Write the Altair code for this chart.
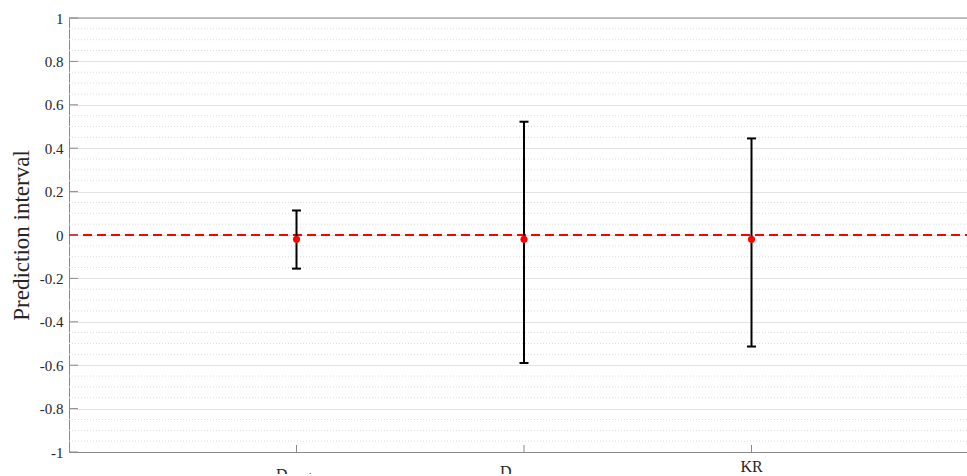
import altair as alt
import numpy as np
import pandas as pd

# Methods compared, their x positions, point estimates and interval bounds
methods = ["D_BR*", "D_SMG", "KR"]
positions = [1, 2, 3]
estimates = [-0.02, -0.02, -0.02]
lower = [-0.155, -0.59, -0.514]
upper = [0.113, 0.522, 0.445]

# Axis ticks
y_major = [-1, -0.8, -0.6, -0.4, -0.2, 0, 0.2, 0.4, 0.6, 0.8, 1]
y_minor = [round(v, 2) for v in np.arange(-1, 1.0001, 0.05) if round(v / 0.2, 6) % 1 != 0]

W, H = 898, 434
TOP = 18
X_MAX = W / 227.5
SERIF = "Liberation Serif"
AXIS_GRAY = "#8a8a8a"
TEXT = "#262626"

df = pd.DataFrame({"method": methods, "pos": positions, "est": estimates,
                   "lo": lower, "hi": upper})

xs = alt.Scale(domain=[0, X_MAX], nice=False, zero=False)
ys = alt.Scale(domain=[-1, 1], nice=False)

x_axis = alt.Axis(title=None, labels=False, ticks=False, grid=False,
                  domainColor=AXIS_GRAY, domainWidth=1)
y_axis = alt.Axis(title="Prediction interval", values=y_major, ticks=False,
                  grid=True, gridColor="#e3e3e3", gridWidth=1,
                  domainColor=AXIS_GRAY, domainWidth=1,
                  labelExpr="replace(format(datum.value, '~g'), '\u2212', '-')",
                  labelFont=SERIF, labelFontSize=15, labelColor=TEXT,
                  labelPadding=6, labelFlush=False,
                  titleFont=SERIF, titleFontSize=23, titleFontWeight="normal",
                  titleColor=TEXT, titlePadding=6)

# Minor dotted grid
minor = alt.Chart(pd.DataFrame({"y": y_minor})).mark_rule(
    color="#dcdcdc", strokeWidth=1, strokeDash=[1, 2]
).encode(y=alt.Y("y:Q", scale=ys, axis=y_axis), x=alt.value(0), x2=alt.value(W))

# Top border of the box
top_border = alt.Chart(pd.DataFrame({"y": [1]})).mark_rule(
    color=AXIS_GRAY, strokeWidth=1
).encode(y=alt.Y("y:Q", scale=ys), x=alt.value(0), x2=alt.value(W))

# Inward ticks
y_ticks = alt.Chart(pd.DataFrame({"y": y_major})).mark_rule(
    color=AXIS_GRAY, strokeWidth=1
).encode(y=alt.Y("y:Q", scale=ys), x=alt.value(0), x2=alt.value(9))

x_ticks = alt.Chart(df).mark_rule(color=AXIS_GRAY, strokeWidth=1).encode(
    x=alt.X("pos:Q", scale=xs, axis=x_axis), y=alt.value(H), y2=alt.value(H - 7)
)

# Zero reference line
zero_line = alt.Chart(pd.DataFrame({"y": [0]})).mark_rule(
    color="#ff0000", strokeWidth=2, strokeDash=[9, 5]
).encode(y=alt.Y("y:Q", scale=ys), x=alt.value(0), x2=alt.value(W))

# Error bars with caps
bars = alt.Chart(df).mark_rule(color="black", strokeWidth=2).encode(
    x=alt.X("pos:Q", scale=xs), y=alt.Y("lo:Q", scale=ys), y2="hi:Q"
)
caps_hi = alt.Chart(df).mark_tick(orient="horizontal", size=9, thickness=2,
                                  color="black", opacity=1).encode(
    x=alt.X("pos:Q", scale=xs), y=alt.Y("hi:Q", scale=ys)
)
caps_lo = alt.Chart(df).mark_tick(orient="horizontal", size=9, thickness=2,
                                  color="black", opacity=1).encode(
    x=alt.X("pos:Q", scale=xs), y=alt.Y("lo:Q", scale=ys)
)
points = alt.Chart(df).mark_circle(size=50, color="#ff0000", opacity=1).encode(
    x=alt.X("pos:Q", scale=xs), y=alt.Y("est:Q", scale=ys)
)

# Category labels with subscripts: (pos, text, dx, page baseline y, font size, align)
label_parts = [
    (1, "D", -20.5, 480, 16, "left"),
    (1, "BR", -8.5, 486, 13, "left"),
    (1, "*", 11, 480, 11, "left"),
    (2, "D", -24, 477, 16, "left"),
    (2, "SMG", -12, 483, 13, "left"),
    (3, "KR", 0, 472, 16, "center"),
]
label_layers = []
for pos, txt, dx, ypix, size, align in label_parts:
    label_layers.append(
        alt.Chart(pd.DataFrame({"pos": [pos], "t": [txt]})).mark_text(
            font=SERIF, fontSize=size, color=TEXT, align=align,
            baseline="alphabetic", dx=dx
        ).encode(x=alt.X("pos:Q", scale=xs), y=alt.value(ypix - TOP), text="t:N")
    )

chart = alt.layer(
    minor, zero_line, top_border, y_ticks, x_ticks, bars, caps_hi, caps_lo,
    points, *label_layers
).properties(
    width=W, height=H,
    autosize=alt.AutoSizeParams(type="none"),
    padding={"left": 69, "top": TOP, "right": 0, "bottom": 22},
).configure_view(stroke=None).configure(background="white").configure_axis(
    labelFont=SERIF, titleFont=SERIF
)

chart.save("out.html", embed_options={"renderer": "svg", "actions": False})
